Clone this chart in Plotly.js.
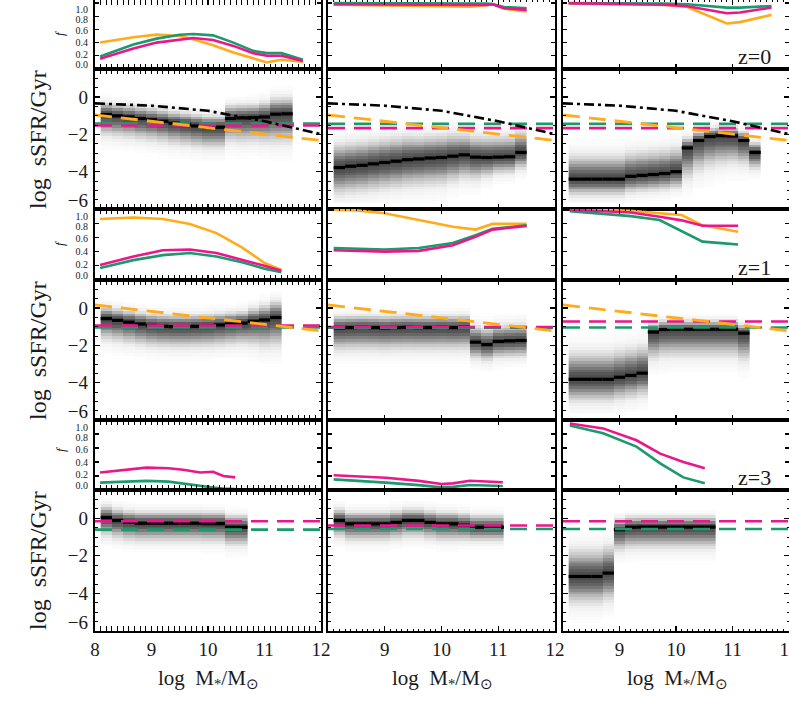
<!DOCTYPE html>
<html>
<head>
<meta charset="utf-8">
<script src="https://cdn.plot.ly/plotly-3.0.1.min.js"></script>
<style>
  html, body { margin: 0; padding: 0; background: #fff; }
  #chart { width: 789px; height: 701px; }
</style>
</head>
<body>
<div id="chart"></div>
<script>
// ---- fraction panels: f against log M* ----
var fracMass_c1z0 = [8.09, 8.68, 9.09, 9.5, 9.74, 10.09, 10.45, 10.8, 11.04, 11.3, 11.68];
var fracOrange_c1z0 = [0.40, 0.48, 0.52, 0.50, 0.45, 0.36, 0.25, 0.155, 0.10, 0.14, 0.11];
var fracGreen_c1z0 = [0.19, 0.37, 0.46, 0.52, 0.53, 0.51, 0.40, 0.275, 0.24, 0.24, 0.14];
var fracPink_c1z0 = [0.155, 0.31, 0.40, 0.45, 0.47, 0.44, 0.35, 0.24, 0.20, 0.20, 0.12];

var fracMass_c2z0 = [8.1, 8.6, 9.1, 9.6, 10.1, 10.5, 10.8, 10.9, 11.1, 11.5];
var fracOrange_c2z0 = [0.975, 0.97, 0.965, 0.955, 0.945, 0.945, 0.965, 0.98, 0.915, 0.87];
var fracGreen_c2z0 = [1.0, 1.0, 1.0, 0.995, 0.99, 0.99, 0.99, 0.985, 0.94, 0.92];
var fracPink_c2z0 = [0.98, 0.977, 0.973, 0.97, 0.965, 0.962, 0.97, 0.98, 0.92, 0.895];

var fracMass_c3z0 = [8.1, 8.7, 9.3, 9.8, 10.2, 10.5, 10.9, 11.13, 11.37, 11.69];
var fracOrange_c3z0 = [0.99, 0.985, 0.98, 0.97, 0.94, 0.83, 0.69, 0.71, 0.76, 0.82];
var fracGreen_c3z0 = [1.0, 1.0, 0.995, 0.99, 0.98, 0.96, 0.93, 0.93, 0.94, 0.955];
var fracPink_c3z0 = [0.995, 0.99, 0.985, 0.975, 0.95, 0.90, 0.845, 0.855, 0.89, 0.93];

var fracMass_c1z1 = [8.09, 8.68, 9.2, 9.68, 10.15, 10.6, 11.0, 11.3];
var fracOrange_c1z1 = [0.86, 0.88, 0.86, 0.79, 0.66, 0.46, 0.24, 0.14];
var fracGreen_c1z1 = [0.17, 0.28, 0.35, 0.38, 0.33, 0.25, 0.16, 0.11];
var fracPink_c1z1 = [0.21, 0.33, 0.42, 0.43, 0.38, 0.29, 0.20, 0.13];

var fracMass_c2z1 = [8.1, 8.5, 9.0, 9.6, 10.2, 10.6, 10.9, 11.5];
var fracOrange_c2z1 = [0.99, 0.98, 0.94, 0.85, 0.75, 0.71, 0.79, 0.79];
var fracGreen_c2z1 = [0.45, 0.44, 0.43, 0.45, 0.52, 0.63, 0.72, 0.77];
var fracPink_c2z1 = [0.42, 0.41, 0.40, 0.41, 0.49, 0.61, 0.71, 0.76];

var fracMass_c3z1 = [8.12, 8.65, 9.2, 9.71, 10.1, 10.47, 10.8, 11.1];
var fracOrange_c3z1 = [1.0, 0.99, 0.975, 0.94, 0.915, 0.77, 0.72, 0.68];
var fracGreen_c3z1 = [0.97, 0.94, 0.90, 0.845, 0.69, 0.54, 0.52, 0.50];
var fracPink_c3z1 = [0.99, 0.967, 0.95, 0.89, 0.84, 0.765, 0.765, 0.765];

var fracMass_c1z3 = [8.09, 8.5, 8.91, 9.3, 9.56, 9.86, 10.09, 10.27, 10.48];
var fracGreen_c1z3 = [0.105, 0.12, 0.13, 0.12, 0.09, 0.06, 0.035, 0.02, 0.015];
var fracPink_c1z3 = [0.25, 0.29, 0.32, 0.31, 0.29, 0.25, 0.26, 0.20, 0.18];

var fracMass_c2z3 = [8.1, 8.6, 9.02, 9.6, 10.0, 10.2, 10.5, 11.08];
var fracGreen_c2z3 = [0.152, 0.13, 0.105, 0.07, 0.038, 0.045, 0.071, 0.057];
var fracPink_c2z3 = [0.21, 0.195, 0.176, 0.13, 0.086, 0.095, 0.133, 0.11];

var fracMass_c3z3 = [8.12, 8.71, 9.3, 9.72, 10.13, 10.51];
var fracGreen_c3z3 = [0.92, 0.81, 0.62, 0.38, 0.18, 0.095];
var fracPink_c3z3 = [0.95, 0.88, 0.71, 0.52, 0.40, 0.31];

// ---- reference relations in the sSFR panels ----
var lineMass = [8, 9, 10, 11, 12];
var dashDot_z0 = [-0.34, -0.465, -0.74, -1.30, -1.99];
var orangeEnds = [8, 12];
var orangeLine_z0 = [-0.96, -2.33];
var orangeLine_z1 = [0.17, -1.23];
var greenLevel_z0 = [-1.42, -1.44, -1.44];
var pinkLevel_z0 = [-1.53, -1.67, -1.67];
var greenLevel_z1 = [-1.045, -1.055, -1.045];
var pinkLevel_z1 = [-0.94, -1.02, -0.72];
var greenLevel_z3 = [-0.61, -0.575, -0.575];
var pinkLevel_z3 = [-0.16, -0.39, -0.16];

// ---- sSFR distributions: bin centre, median, upper / lower spread ----
var cloudMass_c1z0 = [8.2, 8.4, 8.6, 8.8, 9.0, 9.2, 9.4, 9.6, 9.8, 10.0, 10.2, 10.4, 10.6, 10.8, 11.0, 11.2, 11.4];
var ridge_c1z0 = [-0.94, -1.01, -1.07, -1.15, -1.22, -1.30, -1.40, -1.47, -1.55, -1.62, -1.62, -1.15, -1.12, -1.10, -1.07, -0.92, -0.90];
var up_c1z0 = [0.4, 0.4, 0.4, 0.4, 0.4, 0.4, 0.4, 0.4, 0.4, 0.4, 0.4, 0.45, 0.45, 0.45, 0.5, 0.55, 0.55];
var lo_c1z0 = [0.7, 0.7, 0.7, 0.7, 0.7, 0.7, 0.7, 0.7, 0.7, 0.7, 0.7, 0.75, 0.8, 0.8, 0.85, 0.95, 0.95];

var cloudMass_c2z0 = [8.2, 8.4, 8.6, 8.8, 9.0, 9.2, 9.4, 9.6, 9.8, 10.0, 10.2, 10.4, 10.6, 10.8, 11.0, 11.2, 11.4];
var ridge_c2z0 = [-3.78, -3.71, -3.66, -3.58, -3.51, -3.44, -3.36, -3.32, -3.27, -3.24, -3.17, -3.10, -3.22, -3.24, -3.22, -3.20, -2.97];
var up_c2z0 = [0.8, 0.8, 0.8, 0.8, 0.8, 0.8, 0.8, 0.75, 0.75, 0.75, 0.75, 0.7, 0.7, 0.7, 0.7, 0.7, 0.7];
var lo_c2z0 = [0.9, 0.9, 0.9, 0.9, 0.9, 0.9, 0.9, 0.9, 0.9, 0.9, 0.85, 0.8, 0.75, 0.65, 0.55, 0.55, 0.55];

var cloudMass_c3z0 = [8.2, 8.4, 8.6, 8.8, 9.0, 9.2, 9.4, 9.6, 9.8, 10.0, 10.2, 10.4, 10.6, 10.8, 11.0, 11.2, 11.4];
var ridge_c3z0 = [-4.40, -4.40, -4.40, -4.40, -4.40, -4.25, -4.20, -4.15, -4.10, -4.00, -2.73, -2.33, -2.12, -2.07, -2.09, -2.33, -2.97];
var up_c3z0 = [0.8, 0.8, 0.8, 0.8, 0.8, 0.8, 0.8, 0.8, 0.8, 0.8, 0.35, 0.3, 0.3, 0.3, 0.3, 0.3, 0.35];
var lo_c3z0 = [0.55, 0.55, 0.55, 0.55, 0.55, 0.55, 0.55, 0.55, 0.55, 0.55, 1.0, 1.0, 1.0, 0.95, 0.9, 0.8, 0.55];

var cloudMass_c1z1 = [8.2, 8.4, 8.6, 8.8, 9.0, 9.2, 9.4, 9.6, 9.8, 10.0, 10.2, 10.4, 10.6, 10.8, 11.0, 11.2];
var ridge_c1z1 = [-0.57, -0.66, -0.76, -0.86, -0.94, -0.98, -1.0, -1.0, -0.98, -0.96, -0.91, -0.86, -0.81, -0.71, -0.64, -0.51];
var up_c1z1 = [0.4, 0.4, 0.4, 0.4, 0.4, 0.4, 0.4, 0.4, 0.4, 0.4, 0.4, 0.4, 0.4, 0.45, 0.5, 0.55];
var lo_c1z1 = [0.7, 0.7, 0.7, 0.7, 0.7, 0.7, 0.7, 0.7, 0.7, 0.7, 0.7, 0.7, 0.7, 0.8, 0.9, 0.95];

var cloudMass_c2z1 = [8.2, 8.4, 8.6, 8.8, 9.0, 9.2, 9.4, 9.6, 9.8, 10.0, 10.2, 10.4, 10.6, 10.8, 11.0, 11.2, 11.4];
var ridge_c2z1 = [-1.07, -1.05, -1.04, -1.05, -1.07, -1.05, -1.04, -1.05, -1.05, -1.04, -1.05, -1.03, -1.83, -1.96, -1.79, -1.76, -1.74];
var up_c2z1 = [0.4, 0.4, 0.4, 0.4, 0.4, 0.4, 0.4, 0.4, 0.4, 0.4, 0.4, 0.4, 0.55, 0.55, 0.55, 0.55, 0.55];
var lo_c2z1 = [0.75, 0.75, 0.75, 0.75, 0.75, 0.75, 0.75, 0.75, 0.75, 0.75, 0.75, 0.75, 0.55, 0.55, 0.55, 0.55, 0.55];

var cloudMass_c3z1 = [8.2, 8.4, 8.6, 8.8, 9.0, 9.2, 9.4, 9.6, 9.8, 10.0, 10.2, 10.4, 10.6, 10.8, 11.0, 11.2];
var ridge_c3z1 = [-3.82, -3.82, -3.82, -3.82, -3.71, -3.61, -3.49, -1.29, -1.15, -1.14, -1.14, -1.14, -1.14, -1.14, -1.14, -1.35];
var up_c3z1 = [0.9, 0.9, 0.9, 0.9, 0.9, 0.9, 0.9, 0.3, 0.3, 0.3, 0.3, 0.3, 0.3, 0.3, 0.3, 0.3];
var lo_c3z1 = [0.75, 0.75, 0.75, 0.75, 0.75, 0.75, 0.75, 0.9, 0.9, 0.9, 0.9, 0.9, 0.9, 0.9, 0.9, 0.9];

var cloudMass_c1z3 = [8.2, 8.4, 8.6, 8.8, 9.0, 9.2, 9.4, 9.6, 9.8, 10.0, 10.2, 10.4, 10.6];
var ridge_c1z3 = [0.03, -0.12, -0.22, -0.27, -0.27, -0.27, -0.27, -0.27, -0.27, -0.29, -0.29, -0.48, -0.48];
var up_c1z3 = [0.4, 0.4, 0.4, 0.4, 0.4, 0.4, 0.4, 0.4, 0.4, 0.4, 0.4, 0.4, 0.4];
var lo_c1z3 = [0.6, 0.6, 0.6, 0.6, 0.6, 0.6, 0.6, 0.6, 0.6, 0.6, 0.6, 0.6, 0.6];

var cloudMass_c2z3 = [8.2, 8.4, 8.6, 8.8, 9.0, 9.2, 9.4, 9.6, 9.8, 10.0, 10.2, 10.4, 10.6, 10.8, 11.0];
var ridge_c2z3 = [-0.12, -0.30, -0.30, -0.30, -0.30, -0.22, -0.12, -0.12, -0.22, -0.30, -0.30, -0.37, -0.48, -0.48, -0.48];
var up_c2z3 = [0.4, 0.4, 0.4, 0.4, 0.4, 0.4, 0.4, 0.4, 0.4, 0.4, 0.4, 0.4, 0.4, 0.4, 0.4];
var lo_c2z3 = [0.55, 0.55, 0.55, 0.55, 0.55, 0.55, 0.55, 0.55, 0.55, 0.55, 0.55, 0.5, 0.45, 0.45, 0.45];

var cloudMass_c3z3 = [8.2, 8.4, 8.6, 8.8, 9.0, 9.2, 9.4, 9.6, 9.8, 10.0, 10.2, 10.4, 10.6];
var ridge_c3z3 = [-3.10, -3.10, -3.10, -2.92, -0.61, -0.48, -0.47, -0.47, -0.47, -0.47, -0.47, -0.47, -0.47];
var up_c3z3 = [0.9, 0.9, 0.9, 0.9, 0.35, 0.35, 0.35, 0.35, 0.35, 0.35, 0.35, 0.35, 0.35];
var lo_c3z3 = [0.9, 0.9, 0.9, 0.9, 0.7, 0.7, 0.7, 0.7, 0.7, 0.7, 0.7, 0.7, 0.7];

var GREEN = '#1b9a6b', PINK = '#ec168c', ORANGE = '#ffab1a';
var FONT = 'Liberation Serif, Times New Roman, serif';
var INK = '#1a1a1a';
var W = 789, H = 701;

// pixel frame of the 3x6 grid
var colPx = [[95, 321], [328, 555], [563, 789]];
var rowPx = [[0, 69], [69, 209], [209, 280], [280, 420], [420, 490], [490, 631]];
var SSFR_RANGE = [-6, 1.5];

var fracSets = [
  [[fracMass_c1z0, fracOrange_c1z0, fracGreen_c1z0, fracPink_c1z0],
   [fracMass_c2z0, fracOrange_c2z0, fracGreen_c2z0, fracPink_c2z0],
   [fracMass_c3z0, fracOrange_c3z0, fracGreen_c3z0, fracPink_c3z0]],
  [[fracMass_c1z1, fracOrange_c1z1, fracGreen_c1z1, fracPink_c1z1],
   [fracMass_c2z1, fracOrange_c2z1, fracGreen_c2z1, fracPink_c2z1],
   [fracMass_c3z1, fracOrange_c3z1, fracGreen_c3z1, fracPink_c3z1]],
  [[fracMass_c1z3, null, fracGreen_c1z3, fracPink_c1z3],
   [fracMass_c2z3, null, fracGreen_c2z3, fracPink_c2z3],
   [fracMass_c3z3, null, fracGreen_c3z3, fracPink_c3z3]]
];
var cloudSets = [
  [[cloudMass_c1z0, ridge_c1z0, up_c1z0, lo_c1z0],
   [cloudMass_c2z0, ridge_c2z0, up_c2z0, lo_c2z0],
   [cloudMass_c3z0, ridge_c3z0, up_c3z0, lo_c3z0]],
  [[cloudMass_c1z1, ridge_c1z1, up_c1z1, lo_c1z1],
   [cloudMass_c2z1, ridge_c2z1, up_c2z1, lo_c2z1],
   [cloudMass_c3z1, ridge_c3z1, up_c3z1, lo_c3z1]],
  [[cloudMass_c1z3, ridge_c1z3, up_c1z3, lo_c1z3],
   [cloudMass_c2z3, ridge_c2z3, up_c2z3, lo_c2z3],
   [cloudMass_c3z3, ridge_c3z3, up_c3z3, lo_c3z3]]
];
var greenLevels = [greenLevel_z0, greenLevel_z1, greenLevel_z3];
var pinkLevels = [pinkLevel_z0, pinkLevel_z1, pinkLevel_z3];
var orangeLines = [orangeLine_z0, orangeLine_z1, null];

// y grid of the sSFR histograms
var ssfrBins = [];
for (var yb = -5.925; yb < 1.5; yb += 0.15) ssfrBins.push(+yb.toFixed(3));

function cloudZ(ridge, up, lo) {
  return ssfrBins.map(function (y) {
    return ridge.map(function (r, i) {
      var s = y >= r ? up[i] : lo[i];
      var v = Math.exp(-0.5 * Math.pow((y - r) / s, 2));
      return (v < 0.03 || y < -5.75) ? null : v;
    });
  });
}

function ridgeSteps(mass, ridge) {
  var xs = [], ys = [];
  mass.forEach(function (m, i) {
    xs.push(m - 0.1, m + 0.1, null);
    ys.push(ridge[i], ridge[i], null);
  });
  return { x: xs, y: ys };
}

var data = [];
var layout = {
  width: W, height: H,
  margin: { l: 0, r: 0, t: 0, b: 0 },
  paper_bgcolor: '#fff', plot_bgcolor: '#fff',
  showlegend: false,
  font: { family: FONT, color: INK },
  annotations: []
};

function line(x, y, ax, color, width, dash) {
  return { type: 'scatter', mode: 'lines', x: x, y: y, xaxis: 'x' + ax, yaxis: 'y' + ax,
    line: { color: color, width: width, dash: dash || 'solid' }, hoverinfo: 'skip' };
}

for (var row = 0; row < 6; row++) {
  var isFrac = row % 2 === 0;
  var z = Math.floor(row / 2);
  for (var col = 0; col < 3; col++) {
    var ax = row * 3 + col + 1;
    if (isFrac) {
      var fs = fracSets[z][col];
      if (fs[1]) data.push(line(fs[0], fs[1], ax, ORANGE, 2.6));
      data.push(line(fs[0], fs[2], ax, GREEN, 2.6));
      data.push(line(fs[0], fs[3], ax, PINK, 2.6));
    } else {
      var cs = cloudSets[z][col];
      data.push({
        type: 'heatmap', x: cs[0], y: ssfrBins, z: cloudZ(cs[1], cs[2], cs[3]),
        xaxis: 'x' + ax, yaxis: 'y' + ax, zmin: 0, zmax: 1, showscale: false,
        colorscale: [[0, '#ffffff'], [0.2, '#efefef'], [0.5, '#bdbdbd'], [0.8, '#7a7a7a'], [1, '#4a4a4a']],
        hoverinfo: 'skip'
      });
      var st = ridgeSteps(cs[0], cs[1]);
      data.push(line(st.x, st.y, ax, '#000', 3.2));
      data.push(line([8, 12], [greenLevels[z][col], greenLevels[z][col]], ax, GREEN, 2.6, '17px,9px'));
      data.push(line([8, 12], [pinkLevels[z][col], pinkLevels[z][col]], ax, PINK, 2.6, '17px,9px'));
      if (orangeLines[z]) data.push(line(orangeEnds, orangeLines[z], ax, ORANGE, 2.8, '17px,9px'));
      if (z === 0) data.push(line(lineMass, dashDot_z0, ax, '#000', 2.6, '10px,4px,3px,4px'));
    }

    var xa = {
      domain: [colPx[col][0] / W, colPx[col][1] / W],
      anchor: 'y' + ax, range: [8, 12],
      showgrid: false, zeroline: false, showline: true, linecolor: '#000', linewidth: 1.6,
      mirror: 'allticks', ticks: 'inside', ticklen: 5, tickwidth: 1.2, tickcolor: '#000',
      tickmode: 'array', tickvals: [8, 9, 10, 11, 12],
      ticktext: col === 0 ? ['8', '9', '10', '11', '12'] : [' ', '9', '10', '11', '12'],
      showticklabels: row === 5, ticklabeloverflow: 'allow', ticklabelstandoff: 1,
      tickfont: { family: FONT, size: 19, color: INK },
      minor: { tickmode: 'linear', tick0: 8, dtick: 0.1, ticks: 'inside', ticklen: 2.2, tickwidth: 1, tickcolor: '#000' },
      fixedrange: true
    };
    var ya = {
      domain: [1 - rowPx[row][1] / H, 1 - rowPx[row][0] / H],
      anchor: 'x' + ax,
      showgrid: false, zeroline: false, showline: true, linecolor: '#000', linewidth: 1.6,
      mirror: 'allticks', ticks: 'inside', tickwidth: 1.2, tickcolor: '#000',
      showticklabels: false, fixedrange: true
    };
    var fracTop = row === 0 ? 1.045 : 1;
    if (isFrac) {
      ya.range = [0, fracTop];
      ya.tickmode = 'array'; ya.tickvals = [0, 0.2, 0.4, 0.6, 0.8, 1.0]; ya.ticklen = 4;
    } else {
      ya.range = SSFR_RANGE;
      ya.tickmode = 'array'; ya.tickvals = [-6, -4, -2, 0]; ya.ticklen = 5;
      ya.minor = { tickmode: 'linear', tick0: 0, dtick: 0.5, ticks: 'inside', ticklen: 2.5, tickwidth: 1, tickcolor: '#000' };
    }
    layout['xaxis' + ax] = xa;
    layout['yaxis' + ax] = ya;

    // label-only axis on the left column (end labels sit slightly inside the frame)
    if (col === 0) {
      var labId = 18 + row + 1;
      var lab = {
        overlaying: 'y' + ax, anchor: 'x' + ax, side: 'left',
        showgrid: false, zeroline: false, showline: false, ticks: '',
        tickmode: 'array', ticklabelstandoff: 6, fixedrange: true
      };
      if (isFrac) {
        lab.range = [0, fracTop];
        lab.tickvals = [0.065, 0.22, 0.4, 0.58, 0.75, 0.9];
        lab.ticktext = ['0.0', '0.2', '0.4', '0.6', '0.8', '1.0'];
        lab.tickfont = { family: FONT, size: 10, color: INK };
      } else {
        lab.range = SSFR_RANGE;
        lab.tickvals = [-5.55, -4, -2, 0];
        lab.ticktext = ['\u22126', '\u22124', '\u22122', '0'];
        lab.tickfont = { family: FONT, size: 19, color: INK };
      }
      layout['yaxis' + labId] = lab;
      // empty trace so the label axis is laid out
      data.push({ type: 'scatter', mode: 'lines', x: [], y: [], xaxis: 'x' + ax, yaxis: 'y' + labId, hoverinfo: 'skip' });
    }
  }
}

function ann(text, xpx, ypx, size, angle, xanchor) {
  layout.annotations.push({
    text: text, xref: 'paper', yref: 'paper', x: xpx / W, y: 1 - ypx / H,
    xanchor: xanchor || 'center', yanchor: 'middle', showarrow: false, textangle: angle || 0,
    font: { family: FONT, size: size, color: INK }
  });
}

[140, 351, 561].forEach(function (yc) { ann('log  sSFR/Gyr', 38, yc, 24, -90); });
[33, 243, 449].forEach(function (yc) { ann('<i>f</i>', 60, yc, 13, -90); });
[208, 442, 677].forEach(function (xc) { ann('log  M<sub>*</sub>/M<sub>\u2299</sub>', xc, 679, 21); });
ann('z=0', 773, 56, 22, 0, 'right');
ann('z=1', 773, 267, 22, 0, 'right');
ann('z=3', 773, 477, 22, 0, 'right');

Plotly.newPlot('chart', data, layout, { staticPlot: true, displayModeBar: false });
</script>
</body>
</html>
